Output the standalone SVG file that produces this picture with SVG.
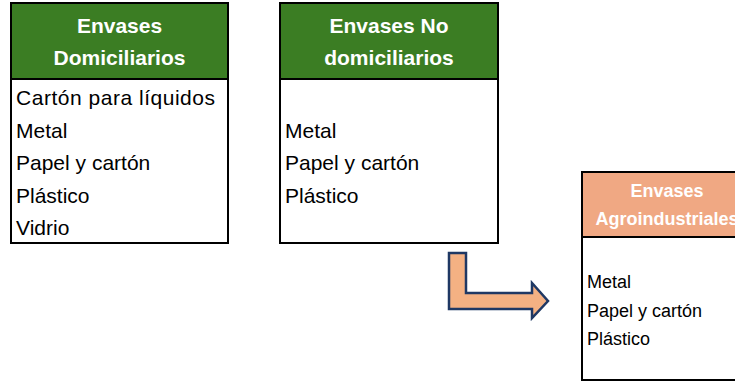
<svg xmlns="http://www.w3.org/2000/svg" width="735" height="381" viewBox="0 0 735 381">
<style>
.box{fill:#ffffff;stroke:#000000;stroke-width:2}
.hg{fill:#3b7d23;stroke:#000000;stroke-width:2}
.ho{fill:#f0a883;stroke:#000000;stroke-width:2}
.ht{font-family:"Liberation Sans",Arial,sans-serif;font-weight:bold;fill:#ffffff;text-anchor:middle}
.rt{font-family:"Liberation Sans",Arial,sans-serif;fill:#000000}
</style>
<rect width="735" height="381" fill="#ffffff"/>
<g id="domiciliarios">
<rect class="box" x="11" y="3" width="217" height="240"/>
<rect class="hg" x="11" y="3" width="217" height="76"/>
<text class="ht" x="119.5" y="33" font-size="21">Envases</text>
<text class="ht" x="119.5" y="65" font-size="21">Domiciliarios</text>
<text class="rt" x="16" y="105" font-size="21" textLength="199">Cartón para líquidos</text>
<text class="rt" x="16" y="138" font-size="21">Metal</text>
<text class="rt" x="16" y="170" font-size="21">Papel y cartón</text>
<text class="rt" x="16" y="203" font-size="21">Plástico</text>
<text class="rt" x="16" y="235" font-size="21">Vidrio</text>
</g>
<g id="no-domiciliarios">
<rect class="box" x="280" y="3" width="218" height="240"/>
<rect class="hg" x="280" y="3" width="218" height="76"/>
<text class="ht" x="389" y="33" font-size="21">Envases No</text>
<text class="ht" x="389" y="65" font-size="21">domiciliarios</text>
<text class="rt" x="285" y="138" font-size="21">Metal</text>
<text class="rt" x="285" y="170" font-size="21">Papel y cartón</text>
<text class="rt" x="285" y="203" font-size="21">Plástico</text>
</g>
<g id="agroindustriales">
<rect class="box" x="582" y="172" width="171" height="208"/>
<rect class="ho" x="582" y="172" width="171" height="65"/>
<text class="ht" x="667" y="197" font-size="18">Envases</text>
<text class="ht" x="667" y="225" font-size="18">Agroindustriales</text>
<text class="rt" x="587" y="288" font-size="18">Metal</text>
<text class="rt" x="587" y="317" font-size="18">Papel y cartón</text>
<text class="rt" x="587" y="345" font-size="18">Plástico</text>
</g>
<g id="connectors">
<path d="M449,253 L466,253 L466,293 L532,293 L532,283 L548,301 L532,318 L532,309 L449,309 Z" fill="#f4b183" stroke="#1f3864" stroke-width="2.5" stroke-linejoin="miter"/>
</g>
</svg>
